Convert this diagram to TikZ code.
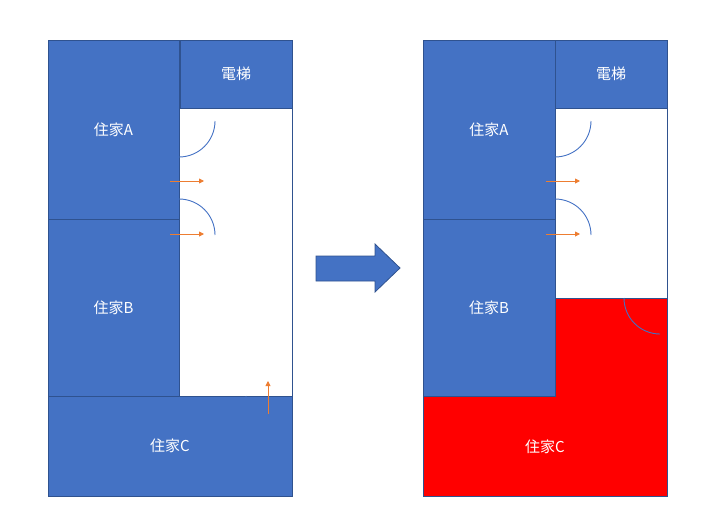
\documentclass[tikz,border=0pt]{standalone}
\usepackage{fontspec}
\newfontfamily\cjk{Noto Sans CJK JP}
\usetikzlibrary{arrows.meta}
\definecolor{bl}{RGB}{68,114,196}
\definecolor{bd}{RGB}{47,82,143}
\definecolor{og}{RGB}{237,125,49}
\definecolor{rd}{RGB}{255,0,0}
\tikzset{room/.style={fill=bl,draw=bd,line width=1pt},
lbl/.style={text=white,font=\cjk\fontsize{15}{15}\selectfont},
door/.style={draw=bl,line width=0.9pt},
oarr/.style={draw=og,line width=0.9pt,-{Triangle[length=5pt,width=5pt]}},
wall/.style={draw=bd,line width=1pt}}
\begin{document}
\begin{tikzpicture}[x=1pt,y=-1pt]
\useasboundingbox (0,0) rectangle (720,530);
% left panel
\draw[wall] (48,40) rectangle (292,496);
\draw[room] (48,40) rectangle (179,219) node[lbl,midway] (a1) {住家A};
\draw[room] (48,219) rectangle (179,396) node[lbl,midway] (b1) {住家B};
\draw[room] (180,40) rectangle (292,108) node[lbl,midway] (e1) {電梯};
\draw[room] (48,396) rectangle (292,496) node[lbl,midway] (c1) {住家C};
\draw[door] (179,157) arc[start angle=90,end angle=0,radius=36];
\draw[door] (215,235) arc[start angle=0,end angle=-90,radius=36];
\draw[door] (246,396) arc[start angle=180,end angle=90,radius=37];
\coordinate (p1) at (170,181); \coordinate (q1) at (204,181);
\coordinate (p2) at (170,234); \coordinate (q2) at (204,234);
\coordinate (p3) at (268,414); \coordinate (q3) at (268,381);
\draw[oarr] (p1) -- (q1); \draw[oarr] (p2) -- (q2); \draw[oarr] (p3) -- (q3);
% big arrow
\draw[fill=bl,draw=bd,line width=0.8pt] (316,256) -- (375,256) -- (375,244) -- (400,268) -- (375,292) -- (375,281) -- (316,281) -- cycle;
% right panel
\draw[wall] (423,40) rectangle (667,496);
\draw[fill=rd,draw=bd,line width=1pt] (555,298) -- (667,298) -- (667,496) -- (423,496) -- (423,396) -- (555,396) -- cycle;
\node[lbl] (c2) at (545,447) {住家C};
\draw[room] (423,40) rectangle (555,219) node[lbl,midway] (a2) {住家A};
\draw[room] (423,219) rectangle (555,396) node[lbl,midway] (b2) {住家B};
\draw[room] (555,40) rectangle (667,108) node[lbl,midway] (e2) {電梯};
\draw[door] (555,157) arc[start angle=90,end angle=0,radius=36];
\draw[door] (591,235) arc[start angle=0,end angle=-90,radius=36];
\draw[door] (624,298) arc[start angle=180,end angle=90,radius=36];
\coordinate (p4) at (546,181); \coordinate (q4) at (580,181);
\coordinate (p5) at (546,234); \coordinate (q5) at (580,234);
\draw[oarr] (p4) -- (q4); \draw[oarr] (p5) -- (q5);
\end{tikzpicture}
\end{document}
